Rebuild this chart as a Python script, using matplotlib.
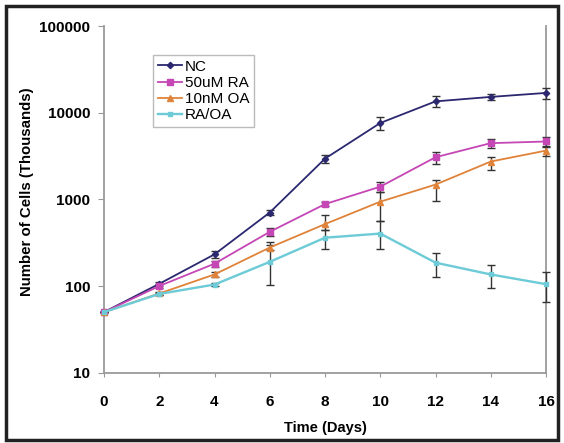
import matplotlib
matplotlib.use("Agg")
import matplotlib.pyplot as plt
from matplotlib.patches import Rectangle

plt.rcParams['font.family'] = ['Liberation Sans', 'DejaVu Sans']

days = [0, 2, 4, 6, 8, 10, 12, 14, 16]

nc = [50, 106, 232, 705, 2950, 7600, 13500, 15200, 16900]
nc_err = [0, 6, 20, 40, 300, 1300, 2000, 1200, 2500]

ra = [50, 100, 181, 422, 881, 1400, 3060, 4450, 4650]
ra_err = [0, 5, 15, 40, 50, 170, 500, 550, 650]

oa = [50, 82, 136, 278, 518, 940, 1480, 2730, 3650]
oa_err_lo = [0, 4, 8, 20, 70, 370, 530, 540, 500]
oa_err_hi = [0, 4, 8, 20, 140, 260, 210, 390, 500]

raoa = [50, 81, 104, 190, 361, 403, 186, 136, 105]
raoa_err_lo = [0, 3, 5, 88, 95, 135, 60, 42, 40]
raoa_err_hi = [0, 3, 5, 135, 85, 160, 53, 40, 40]

labels = ['NC', '50uM RA', '10nM OA', 'RA/OA']
colors = ['#2b2870', '#c546b5', '#e0833a', '#6ccbd6']

yticks = [10, 100, 1000, 10000, 100000]
xticks = [0, 2, 4, 6, 8, 10, 12, 14, 16]

fig = plt.figure(figsize=(5.64, 4.43), dpi=100)
ax = fig.add_axes([104/564, 1-372.7/443, (546-104)/564, (372.7-26)/443])

ekw = dict(ecolor='#333333', elinewidth=1.0, capsize=3.2, capthick=1.0)
containers = []
containers.append(ax.errorbar(days, nc, yerr=nc_err, color=colors[0], marker='D', markersize=3.2,
                              lw=1.3, label=labels[0], zorder=3, **ekw))
containers.append(ax.errorbar(days, ra, yerr=ra_err, color=colors[1], marker='s', markersize=4,
                              lw=1.3, label=labels[1], zorder=3, **ekw))
containers.append(ax.errorbar(days, oa, yerr=[oa_err_lo, oa_err_hi], color=colors[2], marker='^',
                              markersize=4, lw=1.3, label=labels[2], zorder=3, **ekw))
containers.append(ax.errorbar(days, raoa, yerr=[raoa_err_lo, raoa_err_hi], color=colors[3], marker='s',
                              markersize=3.5, lw=1.7, label=labels[3], zorder=3, **ekw))
for c in containers:
    for art in c.get_children():
        art.set_clip_on(False)

ax.set_yscale('log')
ax.set_ylim(10, 100000)
ax.set_xlim(0, 16)
ax.set_yticks(yticks)
ax.set_yticklabels([str(v) for v in yticks], fontweight='bold', fontsize=11)
ax.minorticks_off()
ax.set_xticks(xticks)
ax.set_xticklabels([str(v) for v in xticks], fontweight='bold', fontsize=11)

ax.tick_params(axis='y', length=4, color='#999999', pad=6)
ax.tick_params(axis='x', length=3, color='#999999', pad=13)

for s in ['left', 'bottom', 'right']:
    ax.spines[s].set_color('#9a9a9a')
    ax.spines[s].set_linewidth(1.3)
ax.spines['top'].set_visible(False)

ax.set_xlabel('Time (Days)', fontweight='bold', fontsize=10.5, labelpad=9)
fig.text(27/564, 1-192/443, 'Number of Cells (Thousands)', rotation=90,
         fontweight='bold', fontsize=10.8, ha='center', va='center')

leg = ax.legend(handles=[c[0] for c in containers], labels=labels,
                loc='upper left', bbox_to_anchor=((153-104)/442, 1-(55-26)/346.7),
                fontsize=11, frameon=True, fancybox=False, framealpha=1,
                edgecolor='#bbbbbb', labelspacing=0.15, handlelength=1.6,
                handletextpad=0.2, borderpad=0.3, borderaxespad=0)
leg.get_frame().set_linewidth(1.0)

fig.patches.append(Rectangle((6/564, 1-440/443), (558-6)/564, (440-6)/443,
                             transform=fig.transFigure, fill=False,
                             edgecolor='#222222', linewidth=2.5))

fig.savefig('out.png', dpi=100)
